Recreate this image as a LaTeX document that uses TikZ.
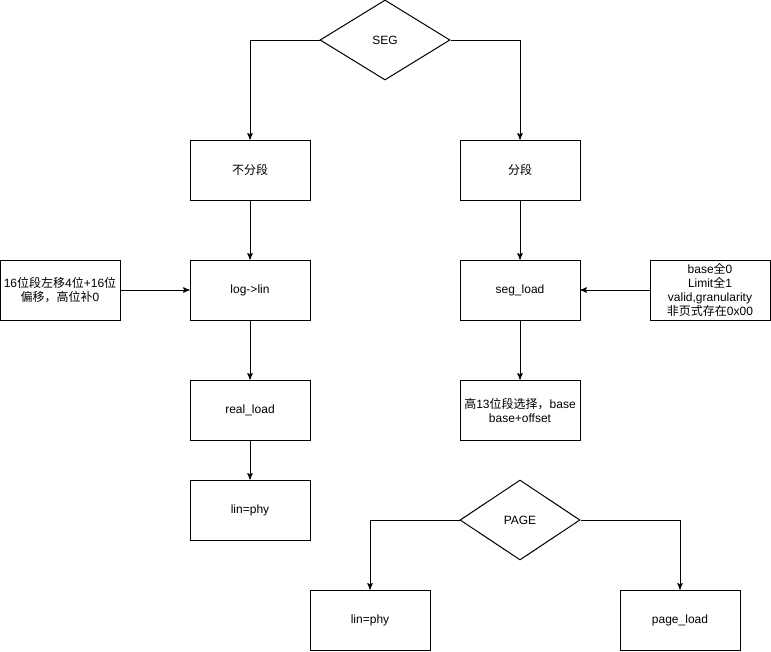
\documentclass[tikz,border=0pt]{standalone}
\usepackage{fontspec}
\setmainfont{Liberation Sans}
\newfontfamily\cjk{Noto Sans CJK SC}
\newcommand{\zh}[1]{{\cjk #1}}
\usepackage{tikz}
\usetikzlibrary{positioning,arrows,shapes.geometric}

\tikzset{
  box/.style={draw,line width=0.75pt,minimum width=90pt,minimum height=45pt,align=center,inner sep=1pt},
  choice/.style={draw,diamond,line width=0.75pt,inner sep=0pt},
  flow/.style={->,line width=0.75pt}
}

\begin{document}
\begin{tikzpicture}[x=0.75pt,y=-0.75pt,>=stealth',font=\fontsize{9}{10.5}\selectfont]
      \useasboundingbox (0,0) rectangle (771,651);

      \node[choice,minimum width=97.5pt,minimum height=60pt] (seg) at (385,40) {SEG};
      \node[box] (flat) at (250,170) {\zh{不分段}};
      \node[box] (segm) at (520,170) {\zh{分段}};
      \node[box] (loglin) at (250,290) {log-{}>lin};
      \node[box] (shift) at (60,290) {16\zh{位段左移}4\zh{位}+16\zh{位}\\\zh{偏移，高位补}0};
      \node[box] (segload) at (520,290) {seg\_load};
      \node[box] (desc) at (710,290) {base\zh{全}0\\Limit\zh{全}1\\valid,granularity\\\zh{非页式存在}0x00};
      \node[box] (realload) at (250,410) {real\_load};
      \node[box] (select) at (520,410) {\zh{高}13\zh{位段选择，}base\\base+offset};
      \node[box] (linphy) at (250,510) {lin=phy};
      \node[choice,minimum width=90pt,minimum height=60pt] (page) at (520,520) {PAGE};
      \node[box] (linphyb) at (370,620) {lin=phy};
      \node[box] (pageload) at (680,620) {page\_load};

      \draw[flow] (seg.west) -| (flat.north);
      \draw[flow] (seg.east) -| (segm.north);
      \draw[flow] (flat) -- (loglin);
      \draw[flow] (segm) -- (segload);
      \draw[flow] (shift) -- (loglin);
      \draw[flow] (desc) -- (segload);
      \draw[flow] (loglin) -- (realload);
      \draw[flow] (segload) -- (select);
      \draw[flow] (realload) -- (linphy);
      \draw[flow] (page.west) -| (linphyb.north);
      \draw[flow] (page.east) -| (pageload.north);
\end{tikzpicture}
\end{document}
